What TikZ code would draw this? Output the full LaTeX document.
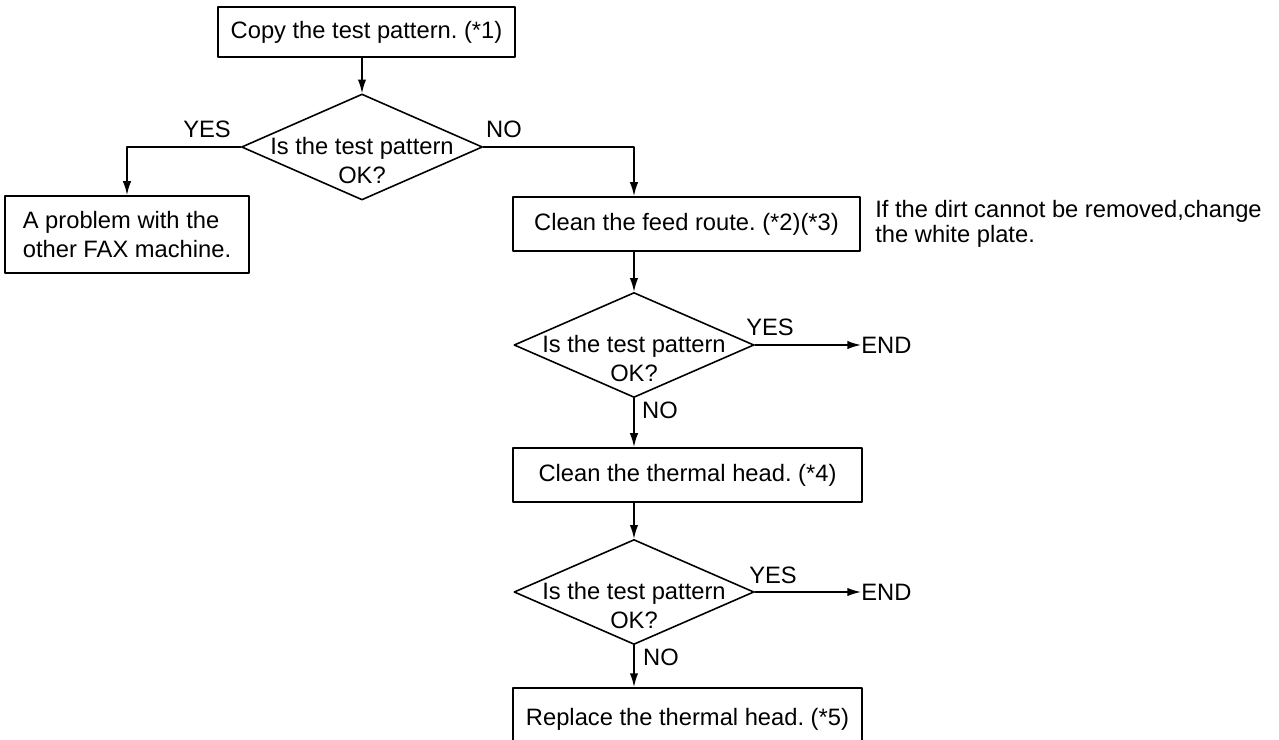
\documentclass[tikz,border=0pt]{standalone}
\usepackage{fontspec}
\setmainfont{Liberation Sans}
\usetikzlibrary{arrows.meta,shapes.geometric,positioning}
\frenchspacing

\begin{document}
\begin{tikzpicture}[x=0.02cm,y=-0.02cm,line cap=round,line join=round,
  font=\fontsize{13.5}{17}\selectfont,
  stepbox/.style={draw,line width=1.2pt,inner sep=0pt},
  decision/.style={draw,diamond,line width=0.9pt,inner sep=0pt,minimum width=4.8cm,minimum height=2.1cm},
  question/.style={align=center,inner sep=0pt,font=\fontsize{13.5}{16.5}\selectfont},
  tag/.style={inner sep=0pt},
  flow/.style={line width=0.9pt,-{Latex[length=7.8pt,width=4.8pt]}}]
  \useasboundingbox (0,0) rectangle (1279,740);
  \node[stepbox,minimum width=5.94cm,minimum height=1cm] (copy) at (366.5,32) {Copy the test pattern. (*1)};
  \node[decision,minimum width=4.82cm,minimum height=2.12cm] (q1) at (362,147) {};
  \node[question] (q1t) at (362,161) {Is the test pattern\\OK?};
  \node[stepbox,minimum width=4.88cm,minimum height=1.54cm,align=left] (other) at (127,234.5) {A problem with the\\other FAX machine.};
  \node[stepbox,minimum width=6.94cm,minimum height=1.08cm] (feed) at (686.5,224) {Clean the feed route. (*2)(*3)};
  \node[anchor=north west,align=left,inner sep=0pt,font=\fontsize{13.5}{14}\selectfont] (plate) at (875,200) {If the dirt cannot be removed,change\\the white plate.};
  \node[decision] (q2) at (634,345) {};
  \node[question] (q2t) at (634,359) {Is the test pattern\\OK?};
  \node[stepbox,minimum width=6.98cm,minimum height=1.08cm] (head) at (687.5,475) {Clean the thermal head. (*4)};
  \node[decision] (q3) at (634,592) {};
  \node[question] (q3t) at (634,606) {Is the test pattern\\OK?};
  \node[stepbox,minimum width=6.98cm,minimum height=1.24cm] (replace) at (687.5,719) {Replace the thermal head. (*5)};
  \node[tag,anchor=west] (end1) at (861,345) {END};
  \node[tag,anchor=west] (end2) at (861,592) {END};
  \node[tag] (yes1) at (207,129) {YES};
  \node[tag] (no1) at (504,129) {NO};
  \node[tag] (yes2) at (770,327) {YES};
  \node[tag] (no2) at (660,410) {NO};
  \node[tag] (yes3) at (773,575) {YES};
  \node[tag] (no3) at (661,657) {NO};
  \draw[flow] (copy.south -| q1.north) -- (q1.north);
  \draw[flow] (q1.west) -| (other.north);
  \draw[flow] (q1.east) -| (q2.north |- feed.north);
  \draw[flow] (q2.north |- feed.south) -- (q2.north);
  \draw[flow] (q2.east) -- (end1.west);
  \draw[flow] (q2.south) -- (q2.south |- head.north);
  \draw[flow] (q3.north |- head.south) -- (q3.north);
  \draw[flow] (q3.east) -- (end2.west);
  \draw[flow] (q3.south) -- (q3.south |- replace.north);
\end{tikzpicture}
\end{document}
